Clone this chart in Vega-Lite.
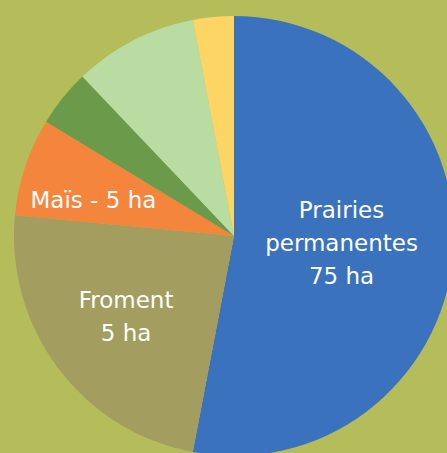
{
  "$schema": "https://vega.github.io/schema/vega-lite/v6.json",
  "width": 468,
  "height": 472,
  "padding": 0,
  "autosize": {"type": "none"},
  "background": "#b5bd5b",
  "config": {"view": {"stroke": null}},
  "data": {
    "values": [
      {"ord": 1, "cat": "Prairies permanentes", "value": 53.0, "label": "Prairies\npermanentes\n75 ha"},
      {"ord": 2, "cat": "Froment", "value": 23.5, "label": "Froment\n5 ha"},
      {"ord": 3, "cat": "Maïs", "value": 7.2, "label": "Maïs - 5 ha"},
      {"ord": 4, "cat": "Autre 1", "value": 4.2, "label": ""},
      {"ord": 5, "cat": "Autre 2", "value": 9.1, "label": ""},
      {"ord": 6, "cat": "Autre 3", "value": 3.0, "label": ""}
    ]
  },
  "encoding": {
    "theta": {"field": "value", "type": "quantitative", "stack": true},
    "order": {"field": "ord", "type": "quantitative"}
  },
  "layer": [
    {
      "mark": {"type": "arc", "radius": 220, "strokeWidth": 0},
      "encoding": {
        "color": {
          "field": "cat",
          "type": "nominal",
          "scale": {
            "domain": ["Prairies permanentes", "Froment", "Maïs", "Autre 1", "Autre 2", "Autre 3"],
            "range": ["#3a72bd", "#a39d60", "#f4853c", "#6b9b4a", "#b9dca3", "#fcd565"]
          },
          "legend": null
        }
      }
    },
    {
      "mark": {"type": "text", "radius": 107, "font": "DejaVu Sans", "fontSize": 23, "lineHeight": 33, "lineBreak": "\n", "color": "white", "align": "center", "baseline": "middle", "dy": -35, "dx": 1},
      "encoding": {
        "text": {"condition": {"test": "datum.ord === 1", "field": "label"}, "value": ""}
      }
    },
    {
      "mark": {"type": "text", "radius": 135, "font": "DejaVu Sans", "fontSize": 23, "lineHeight": 33, "lineBreak": "\n", "color": "white", "align": "center", "baseline": "middle", "dy": -16},
      "encoding": {
        "text": {"condition": {"test": "datum.ord === 2", "field": "label"}, "value": ""}
      }
    },
    {
      "mark": {"type": "text", "radius": 145, "font": "DejaVu Sans", "fontSize": 23, "lineHeight": 33, "color": "white", "align": "center", "baseline": "middle", "dy": 11, "dx": -3},
      "encoding": {
        "text": {"condition": {"test": "datum.ord === 3", "field": "label"}, "value": ""}
      }
    }
  ]
}
